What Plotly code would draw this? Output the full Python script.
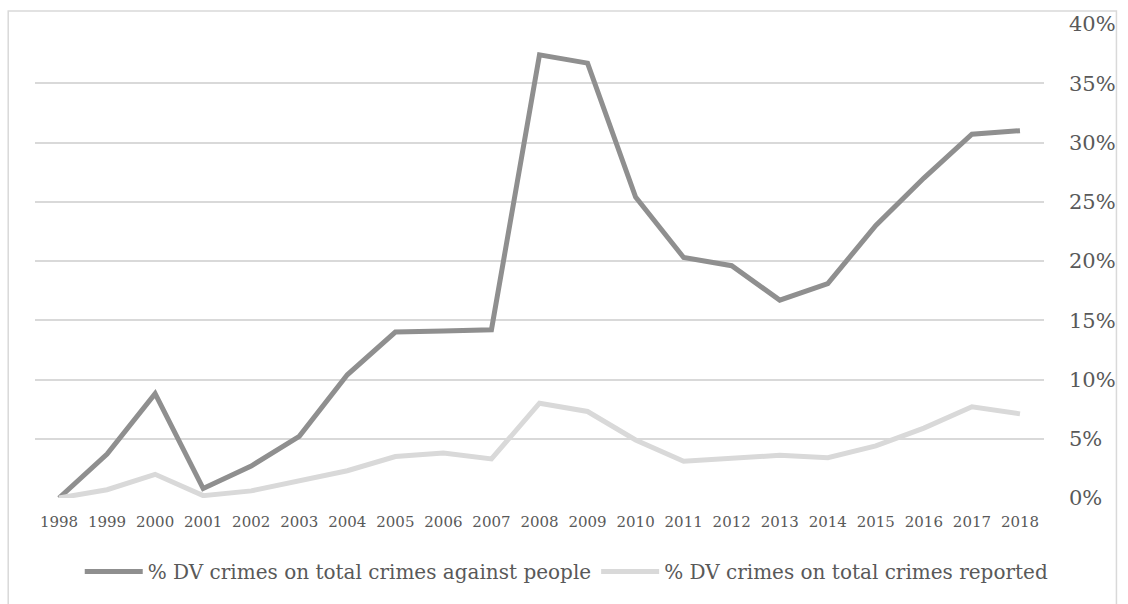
import plotly.graph_objects as go

years = [str(y) for y in range(1998, 2019)]

dv_people = [0.0, 3.7, 8.8, 0.8, 2.7, 5.2, 10.4, 14.0, 14.1, 14.2, 37.4,
             36.7, 25.4, 20.3, 19.6, 16.7, 18.1, 23.0, 27.0, 30.7, 31.0]
dv_reported = [0.0, 0.7, 2.0, 0.2, 0.6, 1.4, 2.3, 3.5, 3.8, 3.3, 8.0,
               7.3, 4.9, 3.1, 3.4, 3.6, 3.4, 4.4, 5.9, 7.7, 7.1]

y_ticks = [0, 5, 10, 15, 20, 25, 30, 35, 40]
y_tick_text = [f"{v}%" for v in y_ticks]

FONT = "DejaVu Serif"
TEXT = "#595959"

fig = go.Figure()
fig.add_trace(go.Scatter(
    x=years, y=dv_people, mode="lines",
    name="% DV crimes on total crimes against people",
    line=dict(color="#8f8f8f", width=5),
))
fig.add_trace(go.Scatter(
    x=years, y=dv_reported, mode="lines",
    name="% DV crimes on total crimes reported",
    line=dict(color="#d9d9d9", width=5),
))

# outer chart frame
fig.add_shape(type="rect", xref="paper", yref="paper",
              x0=(8 - 35) / 1017, x1=(1125 - 35) / 1017,
              y0=-0.3, y1=(498 - 10) / 475,
              line=dict(color="#d9d9d9", width=1.5), layer="below")

fig.update_layout(
    width=1128, height=604,
    margin=dict(l=35, r=76, t=23, b=106),
    paper_bgcolor="white", plot_bgcolor="white",
    font=dict(family=FONT, color=TEXT),
    showlegend=True,
    legend=dict(orientation="h", x=0.527, xanchor="center", y=-0.155, yanchor="middle",
                font=dict(size=20, family=FONT, color=TEXT), itemwidth=58,
                traceorder="normal"),
    xaxis=dict(type="category", range=[-0.5, 20.5], showgrid=False,
               showline=False, zeroline=False, ticks="",
               tickfont=dict(size=15, family=FONT, color=TEXT), ticklabelstandoff=13),
    yaxis=dict(side="right", range=[0, 40], tickvals=y_ticks, ticktext=y_tick_text,
               showgrid=True, gridcolor="#d9d9d9", gridwidth=1.5,
               zeroline=False, showline=False, ticks="",
               tickfont=dict(size=21, family=FONT, color=TEXT), ticklabelstandoff=24),
)

fig.write_html("out.html")
